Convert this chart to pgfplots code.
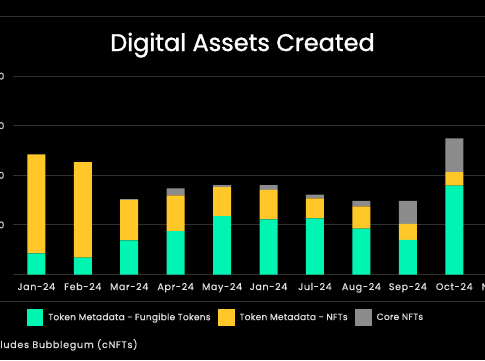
\documentclass[border=0pt]{standalone}
\usepackage{fontspec}
\setmainfont{Poppins}
\newfontfamily\titlefont[FakeBold=1.2]{Poppins}
\newfontfamily\labelfont[LetterSpace=7,FakeBold=0.6]{Poppins}
\newfontfamily\legfont[LetterSpace=3,FakeBold=0.6]{Poppins}
\newfontfamily\notefont[LetterSpace=8,FakeBold=0.6]{Poppins}
\usepackage{pgfplots}
\pgfplotsset{compat=1.18}
\definecolor{mint}{RGB}{0,245,178}
\definecolor{gold}{RGB}{255,200,40}
\definecolor{coregray}{RGB}{140,140,140}
\definecolor{gridc}{RGB}{48,48,48}
\definecolor{txt}{RGB}{222,222,222}
\begin{document}
\begin{tikzpicture}[x=1bp,y=1bp]
\fill[black] (0,0) rectangle (485,360);
\draw[gridc, line width=1bp] (0,343.3) -- (485,343.3);
\draw[gridc, line width=1bp] (0,58.3) -- (485,58.3);
\node[anchor=base, text=white, inner sep=0pt, font=\titlefont\fontsize{24bp}{28bp}\selectfont] at (242.5,309) {Digital Assets Created};
\node[anchor=base east, text=txt, inner sep=0pt, font=\notefont\fontsize{9.5bp}{11bp}\selectfont] at (137.7,12) {*Excludes Bubblegum (cNFTs)};
\begin{axis}[
  at={(13.1bp,85.5bp)}, anchor=south west, scale only axis,
  width=510.8bp, height=198.4bp,
  xmin=-0.5, xmax=10.5, ymin=0, ymax=4,
  ybar stacked, bar width=18bp,
  axis line style={draw=none}, major tick length=0pt,
  xtick={0,...,10},
  xticklabels={Jan-24,Feb-24,Mar-24,Apr-24,May-24,Jan-24,Jul-24,Aug-24,Sep-24,Oct-24,Nov-24},
  ytick={0,1,2,3,4}, yticklabels={,100,200,300,400},
  ymajorgrids, major grid style={gridc, line width=1bp},
  xticklabel style={anchor=base, yshift=-15.5bp, inner sep=0pt, font=\labelfont\fontsize{9.5bp}{12bp}\selectfont, text=txt},
  yticklabel style={anchor=east, inner sep=0pt, xshift=-8.6bp, font=\labelfont\fontsize{9.5bp}{12bp}\selectfont, text=txt},
  legend columns=3,
  legend cell align=left,
  legend style={at={(axis description cs:0.0266,-0.2167)}, anchor=west, draw=none, fill=none, inner sep=0pt, outer sep=0pt,
    font=\legfont\fontsize{9bp}{11bp}\selectfont, text=txt, nodes={inner sep=0pt},
    /tikz/every odd column/.append style={column sep=5bp},
    /tikz/every even column/.append style={column sep=7.5bp}},
  legend image code/.code={\fill[#1,draw=none] (0bp,-8.5bp) rectangle (16.6bp,8.5bp);},
]
\addplot[fill=mint, draw=none] coordinates {(0,0.427)(1,0.339)(2,0.690)(3,0.877)(4,1.179)(5,1.113)(6,1.133)(7,0.923)(8,0.696)(9,1.790)};
\addplot[fill=gold, draw=none] coordinates {(0,1.996)(1,1.929)(2,0.815)(3,0.720)(4,0.585)(5,0.591)(6,0.403)(7,0.452)(8,0.323)(9,0.276)};
\addplot[fill=coregray, draw=none] coordinates {(0,0)(1,0)(2,0.015)(3,0.141)(4,0.040)(5,0.100)(6,0.073)(7,0.107)(8,0.464)(9,0.679)};
\legend{Token Metadata - Fungible Tokens, Token Metadata - NFTs, Core NFTs}
\end{axis}
\pgfresetboundingbox
\useasboundingbox (0,0) rectangle (485,360);
\end{tikzpicture}
\end{document}
